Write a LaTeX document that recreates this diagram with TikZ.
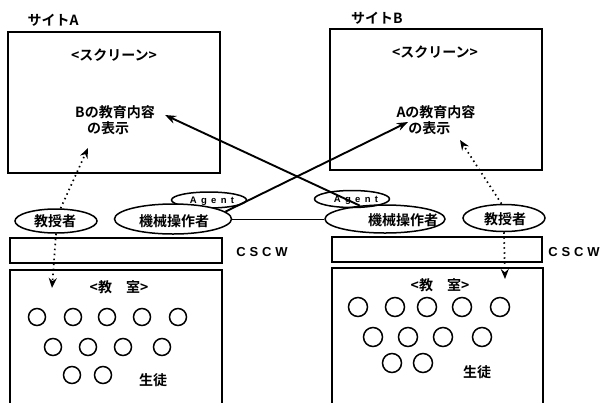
\documentclass[tikz,border=0pt]{standalone}
\usepackage{fontspec}
\setmainfont{Liberation Sans}
\newfontfamily\jp{Noto Sans CJK JP}[BoldFont={Noto Sans CJK JP Bold}]
\usetikzlibrary{arrows.meta,shapes.geometric}
\begin{document}
\begin{tikzpicture}[x=1pt,y=-1pt,
  jptxt/.style={font=\jp\bfseries\fontsize{14}{16.5}\selectfont, inner sep=0pt},
  frame/.style={draw, line width=1.6pt, inner sep=0pt},
  ell/.style={draw, ellipse, line width=1.5pt, inner sep=0pt},
  seat/.style={draw, circle, line width=1.5pt, inner sep=0pt, minimum size=#1},
  bigarrow/.style={line width=1.9pt, -{Stealth[length=11pt,width=8pt]}},
  dotarrow/.style={line width=1.7pt, dash pattern=on 1.5pt off 3.5pt, -{Stealth[length=10pt,width=8pt]}},
  link/.style={line width=0.8pt},
  latin/.style={font=\bfseries\addfontfeature{LetterSpace=30}\fontsize{13}{15}\selectfont, inner sep=0pt},
  agenttxt/.style={font=\bfseries\addfontfeature{LetterSpace=45}\fontsize{9.5}{11}\selectfont, inner sep=0pt}
]
\useasboundingbox[fill=white] (0,0) rectangle (604,402);

% ---------- Site A ----------
\node[jptxt] (siteA) at (53,20) {サイトA};
\node[frame, minimum width=212pt, minimum height=141pt] (scrA) at (114,102.5) {};
\node[jptxt] (scrlblA) at (114,55) {<スクリーン>};
\node[jptxt, align=left] (contA) at (115,120) {Bの教育内容\\\hspace{0.85em}の表示};
\coordinate (tipA) at (165,115);
\coordinate (profAup) at (88,148);

\node[ell, minimum width=82pt, minimum height=24pt] (profA) at (56,221) {};
\node[jptxt] (profAtxt) at (55,221) {教授者};
\node[ell, minimum width=75pt, minimum height=16pt] (agentA) at (209,200) {};
\node[agenttxt] (agentAtxt) at (212,201) {Agent};
\node[ell, fill=white, minimum width=117pt, minimum height=30pt] (opA) at (173,219) {};
\node[jptxt] (opAtxt) at (174,221) {機械操作者};

\node[frame, minimum width=212pt, minimum height=25pt] (cscwA) at (116,250.5) {};
\node[latin] (cscwAtxt) at (262,252) {CSCW};
\draw[line width=1.6pt] (10,410) -- (10,270) coordinate (clsAtl) -- (222,270) coordinate (clsAtr) -- (222,410);
\node[jptxt] (roomA) at (119,287) {<教　室>};
\coordinate (profAdown) at (52,288);

\foreach \x/\y [count=\i] in {37/317,73/317,107/317,142/317,178/317,53/347,88/347,123/347,162/347,72/375,103/375}
  \node[seat=17pt] (sA\i) at (\x,\y) {};
\node[jptxt] (stuA) at (153,380) {生徒};

% ---------- Site B ----------
\node[jptxt] (siteB) at (377,18) {サイトB};
\node[frame, minimum width=212pt, minimum height=141pt] (scrB) at (436,99.5) {};
\node[jptxt] (scrlblB) at (435,52) {<スクリーン>};
\node[jptxt, align=left] (contB) at (436,120) {Aの教育内容\\\hspace{0.85em}の表示};
\coordinate (tipB) at (408,122);
\coordinate (profBup) at (460,140);

\node[ell, minimum width=82pt, minimum height=27pt] (profB) at (504,218) {};
\node[jptxt] (profBtxt) at (505,219) {教授者};
\node[ell, minimum width=75pt, minimum height=17pt] (agentB) at (352,199) {};
\node[agenttxt] (agentBtxt) at (356,200) {Agent};
\node[ell, minimum width=120pt, minimum height=28pt] (opB) at (385,219) {};
\node[jptxt] (opBtxt) at (403,220) {機械操作者};

\node[frame, minimum width=210pt, minimum height=25pt] (cscwB) at (437,249.5) {};
\node[latin] (cscwBtxt) at (574,252) {CSCW};
\draw[line width=1.6pt] (332,410) -- (332,268) coordinate (clsBtl) -- (543,268) coordinate (clsBtr) -- (543,410);
\node[jptxt] (roomB) at (440,285) {<教　室>};
\coordinate (profBdown) at (505,279);

\foreach \x/\y [count=\i] in {358/307,395/307,427/307,462/307,500/307,373/337,408/337,443/337,482/337,392/363,423/363}
  \node[seat=19pt] (sB\i) at (\x,\y) {};
\node[jptxt] (stuB) at (477,372) {生徒};

% ---------- connectors ----------
\draw[link] (opA.east) -- (opB.west);
\draw[bigarrow] (opA.8) -- (tipB);
\draw[bigarrow] (opB.152) -- (tipA);
\draw[dotarrow] (profA.70) -- (profAup);
\draw[dotarrow] (profA.south) -- (profAdown);
\draw[dotarrow] (profB.100) -- (profBup);
\draw[dotarrow] (profB.south) -- (profBdown);
\end{tikzpicture}
\end{document}
